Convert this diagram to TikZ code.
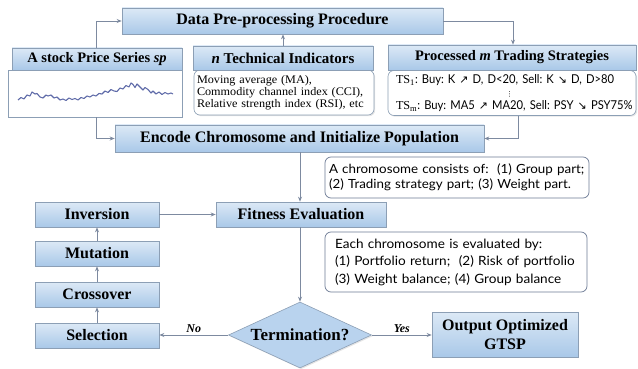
\documentclass[tikz,border=0pt]{standalone}
\usepackage{fontspec}
\setmainfont{Liberation Serif}
\newfontfamily\notefont[FakeStretch=1.06]{Lato}
\newfontfamily\tsfont[FakeStretch=0.92]{Lato}
\newfontfamily\techfont[FakeStretch=1.05]{Liberation Serif}
\newfontfamily\symfont{DejaVu Sans}
\usetikzlibrary{shapes.geometric,shadows,arrows.meta}
\definecolor{boxtop}{HTML}{DCE9F6}
\definecolor{boxbot}{HTML}{A9C8E8}
\definecolor{boxline}{HTML}{8C9FB5}
\definecolor{arrowc}{HTML}{7D8AA0}
\definecolor{seriesc}{HTML}{5E6AA8}
\definecolor{diafill}{HTML}{B9D3EE}
\definecolor{noteline}{HTML}{6E7C96}
\newcommand{\uparr}{{\symfont\fontsize{11}{12}\selectfont ↗}}
\newcommand{\dnarr}{{\symfont\fontsize{11}{12}\selectfont ↘}}
\frenchspacing
\tikzset{
  bluebox/.style={draw=boxline, line width=0.6pt, top color=boxtop, bottom color=boxbot,
    inner sep=0pt, align=center, font=\fontsize{16}{18}\selectfont\bfseries,
    drop shadow={opacity=0.25, shadow xshift=1.2pt, shadow yshift=-1.2pt}},
  bodybox/.style={draw=boxline, line width=0.6pt, fill=white, inner sep=0pt,
    drop shadow={opacity=0.2, shadow xshift=1.2pt, shadow yshift=-1.2pt}},
  notebox/.style={draw=noteline, line width=0.7pt, fill=white, rounded corners=6pt,
    inner sep=0pt, align=left},
  conn/.style={draw=arrowc, line width=0.8pt, -{Stealth[length=5pt,width=4pt]}},
  lbl/.style={font=\fontsize{12}{14}\selectfont\bfseries\itshape, inner sep=1.5pt}
}
\begin{document}
\begin{tikzpicture}[x=1pt,y=-1pt]
\useasboundingbox[fill=white] (0,0) rectangle (638,369);

% top row
\node[bluebox, minimum width=321pt, minimum height=26pt] (data) at (282.5,21) {Data Pre-processing Procedure};

\node[bodybox, minimum width=174pt, minimum height=47pt] (stockbody) at (95,93.5) {};
\draw[seriesc, line width=1.1pt, line join=round]
 (18,100) -- (21,97.5) -- (24,99) -- (27,95) -- (30,96) -- (32,92) -- (35,94) -- (37,93.5)
 -- (40,97) -- (43,98) -- (46,95) -- (48,96) -- (51,95) -- (54,98) -- (57,97) -- (60,100)
 -- (63,99) -- (66,100.5) -- (69,98) -- (72,99.5) -- (75,98.5) -- (78,100) -- (81,97.5)
 -- (84,98.5) -- (87,96) -- (90,97) -- (93,95) -- (96,96) -- (99,93.5) -- (102,94)
 -- (105,91) -- (108,92.5) -- (111,89.5) -- (114,91) -- (117,91.5) -- (120,88) -- (123,89)
 -- (126,85.5) -- (129,87) -- (131,83) -- (133,84.5) -- (135,87.5) -- (137,84) -- (139,86)
 -- (141,88) -- (143,90) -- (145,87.5) -- (148,89.5) -- (151,93) -- (153,91) -- (156,94)
 -- (159,92) -- (162,94.5) -- (165,92.5) -- (168,94) -- (171,93) -- (173,94);
\node[bluebox, minimum width=170pt, minimum height=22pt, font=\fontsize{14.5}{17}\selectfont\bfseries] (stock) at (97,59) {A stock Price Series \textit{sp}};

\node[bodybox, rounded corners=6pt, minimum width=180pt, minimum height=45pt,
      text width=174pt, align=left, font=\techfont\fontsize{11.6}{11.8}\selectfont] (techbody) at (284,92.5)
 {\mbox{Moving average (MA),}\\\mbox{Commodity channel index (CCI),}\\\mbox{Relative strength index (RSI), etc}};
\node[bluebox, minimum width=180pt, minimum height=24pt, font=\fontsize{15}{17}\selectfont\bfseries] (tech) at (283,58) {\textit{n} Technical Indicators};

\node[bodybox, rounded corners=6pt, minimum width=248pt, minimum height=45pt,
      text width=232pt, align=left, font=\tsfont\fontsize{12.2}{12.8}\selectfont] (procbody) at (512,93)
 {\mbox{{\rmfamily TS\textsubscript{1}}: Buy: K \uparr{} D, D<20, Sell: K \dnarr{} D, D>80}\\
  \mbox{\hspace*{110pt}{\symfont\fontsize{7}{8}\selectfont ⋮}}\\
  \mbox{{\rmfamily TS\textsubscript{m}}: Buy: MA5 \uparr{} MA20, Sell: PSY \dnarr{} PSY75\%}};
\node[bluebox, minimum width=248pt, minimum height=25pt, font=\fontsize{14.5}{17}\selectfont\bfseries] (proc) at (512,57.5) {Processed \textit{m} Trading Strategies};

% encode
\node[bluebox, minimum width=369pt, minimum height=27pt] (encode) at (299.5,138.5) {Encode Chromosome and Initialize Population};
\node[notebox, minimum width=264pt, minimum height=41pt, text width=256pt,
      font=\notefont\fontsize{12.6}{15}\selectfont] (note1) at (457,177.5)
 {\mbox{A chromosome consists of:\ \ (1) Group part;}\\\mbox{(2) Trading strategy part; (3) Weight part.}};

% fitness and GA loop
\node[bluebox, minimum width=170pt, minimum height=25pt] (fit) at (301,214.5) {Fitness Evaluation};
\node[bluebox, minimum width=124pt, minimum height=25pt] (inv) at (97,214.5) {Inversion};
\node[bluebox, minimum width=124pt, minimum height=25pt] (mut) at (97,253.5) {Mutation};
\node[bluebox, minimum width=124pt, minimum height=25pt] (cross) at (97,294.5) {Crossover};
\node[bluebox, minimum width=124pt, minimum height=25pt] (sel) at (97,335.5) {Selection};

\node[notebox, minimum width=262pt, minimum height=60pt, text width=242pt,
      font=\notefont\fontsize{12.8}{17.5}\selectfont] (note2) at (456,262)
 {\mbox{Each chromosome is evaluated by:}\\\mbox{(1) Portfolio return;\ \ (2) Risk of portfolio}\\\mbox{(3) Weight balance; (4) Group balance}};

\node[diamond, shape aspect=2.4, draw=boxline, line width=0.6pt, fill=diafill, inner sep=0pt,
      minimum width=143pt, minimum height=66pt, font=\fontsize{17}{19}\selectfont\bfseries,
      drop shadow={opacity=0.2, shadow xshift=1.2pt, shadow yshift=-1.2pt}] (term) at (300,335) {Termination?};

\node[bluebox, minimum width=146pt, minimum height=45pt, font=\fontsize{16}{19}\selectfont\bfseries] (out) at (505,334.5) {Output Optimized\\GTSP};

% connectors
\coordinate (c1) at (96,21);
\draw[conn] (stock.north -| c1) -- (c1) -- (data.west);
\draw[conn] (tech.north) -- (tech.north |- data.south);
\coordinate (c2) at (513,21);
\draw[conn] (data.east) -- (c2) -- (c2 |- proc.north);
\coordinate (c3) at (96,138.5);
\draw[conn] (stockbody.south -| c3) -- (c3) -- (encode.west);
\coordinate (c4) at (518,138.5);
\draw[conn] (procbody.south -| c4) -- (c4) -- (encode.east);
\coordinate (c5) at (300,214.5);
\draw[conn] (encode.south -| c5) -- (fit.north -| c5);
\draw[conn] (inv.east) -- (fit.west);
\draw[conn] (mut.north) -- (inv.south);
\draw[conn] (cross.north) -- (mut.south);
\draw[conn] (sel.north) -- (cross.south);
\draw[conn] (fit.south -| c5) -- (term.north);
\draw[conn] (term.west) -- node[lbl, above] {No} (term.west -| sel.east);
\draw[conn] (term.east) -- node[lbl, above] {Yes} (term.east -| out.west);
\end{tikzpicture}
\end{document}
